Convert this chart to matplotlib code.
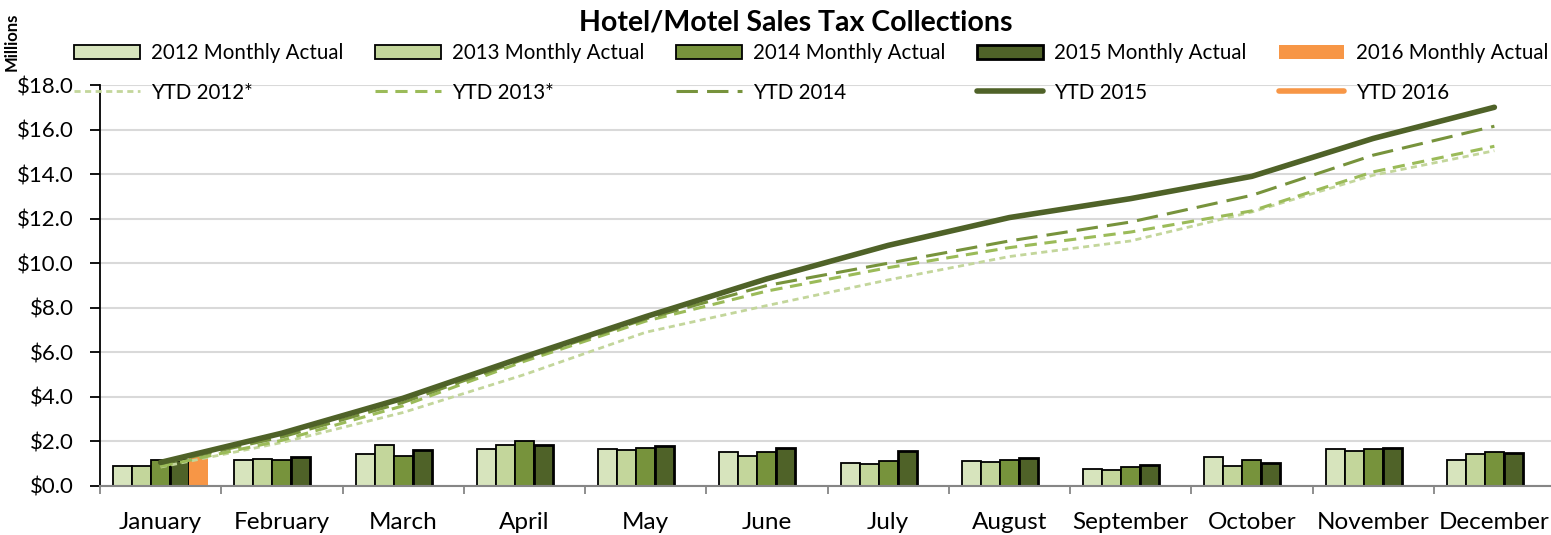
import numpy as np
import matplotlib
matplotlib.use("Agg")
import matplotlib.pyplot as plt

plt.rcParams['font.family'] = ['Lato', 'DejaVu Sans']

months = ["January", "February", "March", "April", "May", "June", "July",
          "August", "September", "October", "November", "December"]

# monthly collections ($ millions)
actual_2012 = [0.88, 1.18, 1.45, 1.64, 1.64, 1.51, 1.03, 1.11, 0.77, 1.29, 1.64, 1.15]
actual_2013 = [0.88, 1.23, 1.83, 1.85, 1.61, 1.36, 0.98, 1.06, 0.71, 0.91, 1.59, 1.45]
actual_2014 = [1.15, 1.18, 1.33, 2.01, 1.71, 1.51, 1.11, 1.15, 0.86, 1.18, 1.67, 1.51]
actual_2015 = [1.15, 1.29, 1.61, 1.82, 1.80, 1.71, 1.56, 1.25, 0.95, 1.03, 1.71, 1.48]
actual_2016 = [1.30]

# year to date ($ millions)
ytd_2012 = [0.85, 1.95, 3.30, 5.00, 6.90, 8.10, 9.25, 10.30, 11.00, 12.30, 13.95, 15.05]
ytd_2013 = [0.88, 2.05, 3.60, 5.60, 7.40, 8.75, 9.80, 10.70, 11.40, 12.35, 14.10, 15.25]
ytd_2014 = [1.00, 2.20, 3.75, 5.70, 7.50, 9.00, 10.00, 11.00, 11.85, 13.05, 14.85, 16.15]
ytd_2015 = [1.06, 2.37, 3.94, 5.80, 7.60, 9.30, 10.80, 12.05, 12.90, 13.90, 15.60, 17.00]
ytd_2016 = [1.30]

c12, c13, c14, c15, c16 = "#d7e4bd", "#c3d69b", "#77933c", "#4f6228", "#f79646"

fig = plt.figure(figsize=(15.51, 5.35), dpi=100)
ax = fig.add_axes([100 / 1551, 49 / 535, 1455 / 1551, 401 / 535])

x = np.arange(len(months))
w = 0.157

b12 = ax.bar(x - 2 * w, actual_2012, w, color=c12, edgecolor="black", linewidth=1.3, zorder=2)
b13 = ax.bar(x - w, actual_2013, w, color=c13, edgecolor="black", linewidth=1.3, zorder=2)
b14 = ax.bar(x, actual_2014, w, color=c14, edgecolor="black", linewidth=1.3, zorder=2)
b15 = ax.bar(x + w, actual_2015, w, color=c15, edgecolor="black", linewidth=2.0, zorder=2)
b16 = ax.bar(x[:len(actual_2016)] + 2 * w, actual_2016, w, color=c16, linewidth=0, zorder=2)

l12, = ax.plot(x, ytd_2012, color=c13, lw=2.0, dashes=(2.2, 1.6), zorder=3)
l13, = ax.plot(x, ytd_2013, color="#9bbb59", lw=2.2, dashes=(4, 2.5), zorder=3)
l14, = ax.plot(x, ytd_2014, color=c14, lw=2.2, dashes=(7, 3), zorder=3)
l15, = ax.plot(x, ytd_2015, color=c15, lw=4.0, solid_capstyle="round", zorder=4)
l16, = ax.plot(x[:len(ytd_2016)], ytd_2016, color=c16, lw=4.0, solid_capstyle="round", zorder=4)

ax.set_xlim(-0.5, 11.5)
ax.set_ylim(0, 18)
ax.set_yticks(np.arange(0, 18.1, 2))
ax.set_yticklabels(["${:.1f}".format(v) for v in np.arange(0, 18.1, 2)], fontsize=16)
ax.yaxis.grid(True, color="#d9d9d9", lw=1.5, zorder=0)
ax.set_axisbelow(True)
ax.tick_params(axis="y", length=7, width=1.3, color="black", pad=12)

ax.set_xticks(np.arange(-0.5, 12, 1))
ax.set_xticklabels([])
ax.set_xticks(x, minor=True)
ax.set_xticklabels(months, minor=True, fontsize=17.5)
ax.tick_params(axis="x", which="major", length=6, width=1.3, color="#868686")
ax.tick_params(axis="x", which="minor", length=0, pad=18.5)

for s in ["top", "right"]:
    ax.spines[s].set_visible(False)
ax.spines["left"].set_color("black")
ax.spines["left"].set_linewidth(1.3)
ax.spines["bottom"].set_color("#868686")
ax.spines["bottom"].set_linewidth(1.5)

fig.text(796 / 1551, 1 - 22 / 535, "Hotel/Motel Sales Tax Collections", ha="center", va="center",
         fontsize=20.5, fontweight="bold")
fig.text(12 / 1551, 1 - 42 / 535, "Millions", rotation=90, ha="center", va="center",
         fontsize=12, fontweight="bold")

handles = [b12, l12, b13, l13, b14, l14, b15, l15, b16, l16]
labels = ["2012 Monthly Actual", "YTD 2012*", "2013 Monthly Actual", "YTD 2013*",
          "2014 Monthly Actual", "YTD 2014", "2015 Monthly Actual", "YTD 2015",
          "2016 Monthly Actual", "YTD 2016"]
fig.legend(handles, labels, ncol=5, mode="expand", frameon=False, fontsize=14.8,
           bbox_to_anchor=(74 / 1551, 1 - 112 / 535, 1474 / 1551, 69 / 535),
           loc="upper left", handlelength=3.2, handletextpad=0.55,
           labelspacing=0.95, borderaxespad=0, borderpad=0)

fig.savefig("out.png", dpi=100)
